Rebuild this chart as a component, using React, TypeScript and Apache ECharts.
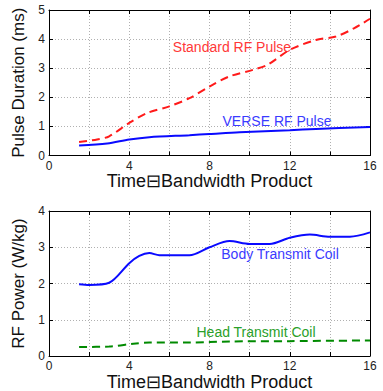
import React, { useEffect, useRef } from "react";
import * as echarts from "echarts";

const standardX = [1.5, 2.4, 3, 4, 4.9, 6, 7, 8, 9, 10.2, 10.9, 12, 13.3, 14.3, 15.2, 16];
const standardY = [0.46, 0.55, 0.66, 1.12, 1.46, 1.69, 1.97, 2.37, 2.72, 2.95, 3.12, 3.63, 3.97, 4.09, 4.37, 4.7];
const verseX = [1.5, 2.9, 4, 5, 7, 8, 9.5, 12, 13.3, 16];
const verseY = [0.34, 0.41, 0.55, 0.63, 0.7, 0.74, 0.8, 0.87, 0.91, 0.98];
const bodyX = [1.5, 2, 3, 4, 4.5, 5, 5.5, 7, 8, 9, 10, 11, 12, 13, 14, 15, 16];
const bodyY = [1.98, 1.96, 2.02, 2.56, 2.76, 2.84, 2.78, 2.78, 3.0, 3.17, 3.09, 3.09, 3.26, 3.35, 3.29, 3.29, 3.41];
const headX = [1.5, 3, 4.2, 5, 7, 9, 12, 16];
const headY = [0.25, 0.26, 0.34, 0.37, 0.37, 0.4, 0.41, 0.43];

const xTitle = "Time\u229FBandwidth Product";
const topYTitle = "Pulse Duration (ms)";
const bottomYTitle = "RF Power (W/kg)";

const zip = (xs: number[], ys: number[]) => xs.map((x, i) => [x, ys[i]]);
const FONT = "Liberation Sans, Arial, sans-serif";

export default function App() {
  const ref = useRef<HTMLDivElement>(null);
  useEffect(() => {
    if (!ref.current) return;
    const chart = echarts.init(ref.current, null, { renderer: "svg" });
    const grids = [
      { left: 49, right: 13, top: 10, height: 145.5, outerBoundsMode: "none", containLabel: false },
      { left: 49, right: 13, top: 211, height: 145, outerBoundsMode: "none", containLabel: false },
    ];
    const gridLine = { show: true, lineStyle: { color: "#b0b0b0", type: [1, 2], width: 1 } };
    const mainX = (gi: number) => ({
      type: "value",
      gridIndex: gi,
      min: 0,
      max: 16,
      interval: 2,
      name: xTitle,
      nameLocation: "middle",
      nameGap: 16,
      nameTextStyle: { fontSize: 18, color: "#111", fontFamily: FONT },
      axisLine: { show: true, onZero: false, lineStyle: { color: "#000", width: 1 } },
      axisTick: { show: true, inside: true, length: 4, lineStyle: { color: "#000" } },
      axisLabel: {
        fontSize: 12,
        color: "#222",
        fontFamily: FONT,
        margin: 4,
        formatter: (v: number) => (v % 4 === 0 ? String(v) : ""),
      },
      splitLine: gridLine,
    });
    const topX = (gi: number) => ({
      type: "value",
      gridIndex: gi,
      position: "top",
      min: 0,
      max: 16,
      interval: 2,
      axisLine: { show: true, onZero: false, lineStyle: { color: "#000", width: 1 } },
      axisTick: { show: true, inside: true, length: 4, lineStyle: { color: "#000" } },
      axisLabel: { show: false },
      splitLine: { show: false },
    });
    const mainY = (gi: number, max: number, name: string) => ({
      type: "value",
      gridIndex: gi,
      min: 0,
      max,
      interval: 1,
      name,
      nameLocation: "middle",
      nameGap: 14,
      nameTextStyle: { fontSize: 17, color: "#111", fontFamily: FONT },
      axisLine: { show: true, onZero: false, lineStyle: { color: "#000", width: 1 } },
      axisTick: { show: true, inside: true, length: 4, lineStyle: { color: "#000" } },
      axisLabel: { fontSize: 12, color: "#222", fontFamily: FONT, margin: 4 },
      splitLine: gridLine,
    });
    const rightY = (gi: number, max: number) => ({
      type: "value",
      gridIndex: gi,
      position: "right",
      min: 0,
      max,
      interval: 1,
      axisLine: { show: true, onZero: false, lineStyle: { color: "#000", width: 1 } },
      axisTick: { show: true, inside: true, length: 4, lineStyle: { color: "#000" } },
      axisLabel: { show: false },
      splitLine: { show: false },
    });
    const lineSeries = (xi: number, yi: number, data: number[][], color: string, dashed: boolean) => ({
      type: "line",
      xAxisIndex: xi,
      yAxisIndex: yi,
      data,
      smooth: 0.3,
      showSymbol: false,
      symbol: "none",
      lineStyle: { color, width: 2, type: dashed ? [8, 5] : "solid" },
    });
    const label = (text: string, x: number, y: number, color: string) => ({
      type: "text",
      x,
      y,
      style: {
        text,
        fill: color,
        fontSize: 14,
        fontFamily: FONT,
        align: "center",
        verticalAlign: "middle",
      },
    });
    chart.setOption({
      animation: false,
      grid: grids,
      xAxis: [mainX(0), topX(0), mainX(1), topX(1)],
      yAxis: [mainY(0, 5, topYTitle), rightY(0, 5), mainY(1, 4, bottomYTitle), rightY(1, 4)],
      series: [
        lineSeries(0, 0, zip(standardX, standardY), "#ff1a1a", true),
        lineSeries(0, 0, zip(verseX, verseY), "#0a0aff", false),
        lineSeries(2, 2, zip(bodyX, bodyY), "#0a0aff", false),
        lineSeries(2, 2, zip(headX, headY), "#008a00", true),
      ],
      graphic: [
        label("Standard RF Pulse", 232, 47, "#ff3838"),
        label("VERSE RF Pulse", 277, 121, "#3a3aff"),
        label("Body Transmit Coil", 280, 254, "#3a3aff"),
        label("Head Transmit Coil", 256, 332, "#2aa02a"),
      ],
    });
    return () => chart.dispose();
  }, []);
  return (
    <div
      ref={ref}
      style={{ position: "fixed", left: 0, top: 0, width: 383, height: 391, background: "#fff" }}
    />
  );
}
